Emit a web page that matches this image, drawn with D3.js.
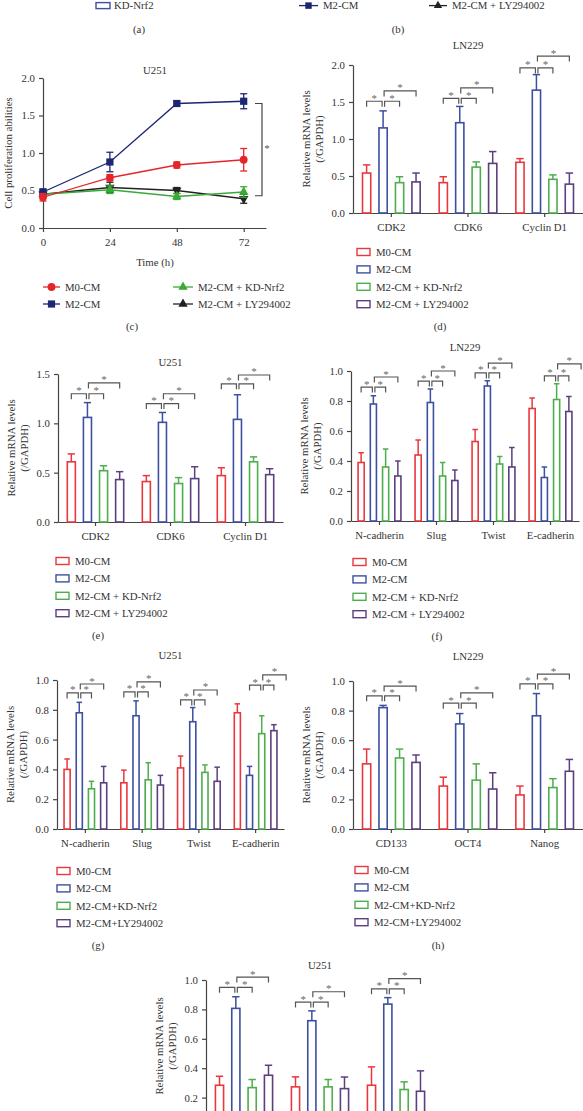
<!DOCTYPE html>
<html><head><meta charset="utf-8">
<script src="https://cdn.jsdelivr.net/npm/d3@7"></script>
<style>
body{margin:0;background:#fff}
svg{display:block}
text{font-family:"Liberation Serif","Times New Roman",serif}
</style>
</head><body>
<svg id="chart" width="583" height="1111"></svg>
<script>
// ---------------- DATA ----------------
const groupNames = ["M0-CM", "M2-CM", "M2-CM + KD-Nrf2", "M2-CM + LY294002"];
const groupNamesCompact = ["M0-CM", "M2-CM", "M2-CM+KD-Nrf2", "M2-CM+LY294002"];
const topLegendNames = ["KD-Nrf2", "M2-CM", "M2-CM + LY294002"];
const topPanelLabels = ["(a)", "(b)"];

// panel (c) – U251 proliferation
const cTimes = [0, 24, 48, 72];
const cTimeTicks = [0, 24, 48, 72];
const cM0 = [0.41, 0.67, 0.84, 0.91];
const cM0Err = [0.05, 0.04, 0.04, 0.15];
const cM2 = [0.48, 0.88, 1.66, 1.69];
const cM2Err = [0.04, 0.13, 0.03, 0.10];
const cNrf2 = [0.45, 0.51, 0.42, 0.48];
const cNrf2Err = [0.03, 0.05, 0.04, 0.07];
const cLY = [0.45, 0.54, 0.50, 0.39];
const cLYErr = [0.03, 0.07, 0.04, 0.06];
const cSig = [1.66, 0.43];

// panel (d) – LN229 cell-cycle genes
const dCats = ["CDK2", "CDK6", "Cyclin D1"];
const dMean = [[0.54, 0.41, 0.685], [1.15, 1.22, 1.66], [0.41, 0.62, 0.455], [0.42, 0.67, 0.39]];
const dErr = [[0.11, 0.08, 0.05], [0.23, 0.22, 0.21], [0.08, 0.07, 0.06], [0.12, 0.16, 0.15]];
const dSigLow = [1.51, 1.55, 1.96];
const dSigHigh = [1.65, 1.69, 2.12];

// panel (e) – U251 cell-cycle genes
const eCats = ["CDK2", "CDK6", "Cyclin D1"];
const eMean = [[0.61, 0.41, 0.47], [1.06, 1.01, 1.04], [0.52, 0.39, 0.61], [0.43, 0.44, 0.48]];
const eErr = [[0.08, 0.06, 0.08], [0.15, 0.10, 0.25], [0.05, 0.06, 0.05], [0.08, 0.12, 0.06]];
const eSigLow = [1.30, 1.20, 1.40];
const eSigHigh = [1.41, 1.30, 1.49];

// panel (f) – LN229 EMT genes
const fCats = ["N-cadherin", "Slug", "Twist", "E-cadherin"];
const fMean = [[0.39, 0.44, 0.53, 0.75], [0.78, 0.79, 0.90, 0.29], [0.36, 0.30, 0.38, 0.81], [0.30, 0.27, 0.36, 0.73]];
const fErr = [[0.065, 0.10, 0.08, 0.07], [0.055, 0.09, 0.035, 0.07], [0.12, 0.09, 0.05, 0.105], [0.10, 0.07, 0.13, 0.10]];
const fSigLow = [0.893, 0.933, 0.987, 0.967];
const fSigHigh = [0.96, 1.0, 1.053, 1.047];
const fSigShift = [0, 0, 0, 1];

// panel (g) – U251 EMT genes
const gCats = ["N-cadherin", "Slug", "Twist", "E-cadherin"];
const gMean = [[0.40, 0.31, 0.41, 0.78], [0.78, 0.76, 0.72, 0.36], [0.27, 0.33, 0.38, 0.64], [0.31, 0.295, 0.32, 0.66]];
const gErr = [[0.07, 0.085, 0.08, 0.06], [0.07, 0.10, 0.095, 0.06], [0.05, 0.115, 0.05, 0.12], [0.11, 0.065, 0.095, 0.04]];
const gSigLow = [0.913, 0.92, 0.866, 0.966];
const gSigHigh = [0.973, 0.987, 0.933, 1.034];
const gSigShift = [0, 0, 0, 1];

// panel (h) – LN229 stemness genes
const hCats = ["CD133", "OCT4", "Nanog"];
const hMean = [[0.44, 0.29, 0.23], [0.82, 0.71, 0.765], [0.48, 0.33, 0.28], [0.45, 0.27, 0.39]];
const hErr = [[0.10, 0.06, 0.06], [0.015, 0.07, 0.15], [0.06, 0.11, 0.06], [0.05, 0.11, 0.08]];
const hSigLow = [0.90, 0.85, 0.98];
const hSigHigh = [0.966, 0.92, 1.047];

// panel (i) – U251 stemness genes (cut at the bottom of the figure)
const iCats = ["CD133", "OCT4", "Nanog"];
const iMean = [[0.284, 0.273, 0.284], [0.807, 0.723, 0.836], [0.268, 0.273, 0.255], [0.352, 0.261, 0.243]];
const iErr = [[0.061, 0.068, 0.125], [0.079, 0.067, 0.044], [0.055, 0.05, 0.052], [0.068, 0.079, 0.139]];
const iSigLow = [0.95, 0.85, 0.94];
const iSigHigh = [1.02, 0.92, 1.01];

const ticks2 = [0, 0.5, 1.0, 1.5, 2.0];
const ticks15 = [0, 0.5, 1.0, 1.5];
const ticks1 = [0, 0.2, 0.4, 0.6, 0.8, 1.0];
const ticks1Visible = [0.2, 0.4, 0.6, 0.8, 1.0];

// ---------------- STYLE ----------------
const BAR_COL = ["#e8383d", "#3c4fa0", "#4cae4c", "#5b3f80"];
const LINE_COL = ["#e4262b", "#1c2672", "#3aa935", "#222222"];
const AX = "#444";
const TXT = "#333";
const FS = 10.8;
const svg = d3.select("#chart");
const fmt = d3.format(".1f");

function styleAxis(sel) {
  sel.selectAll("path.domain").attr("stroke", AX).attr("stroke-width", 1.2);
  sel.selectAll(".tick line").attr("stroke", AX).attr("stroke-width", 1.2);
  sel.selectAll(".tick text").attr("font-family", '"Liberation Serif","Times New Roman",serif')
    .attr("font-size", FS).attr("fill", TXT);
}

function txt(g, x, y, s, opts = {}) {
  const t = g.append("text").attr("x", x).attr("y", y).attr("dy", "0.35em")
    .attr("text-anchor", opts.anchor || "middle").attr("font-size", opts.size || FS)
    .attr("fill", opts.fill || TXT).text(s);
  if (opts.rotate) t.attr("transform", `rotate(-90,${x},${y})`);
  return t;
}

// ---------------- TOP STRIP (a)/(b) fragments ----------------
{
  const g = svg.append("g");
  const ty = 5.6;
  g.append("rect").attr("x", 96).attr("y", ty - 3).attr("width", 14).attr("height", 6)
    .attr("fill", "#fff").attr("stroke", BAR_COL[1]).attr("stroke-width", 1.4);
  txt(g, 114, ty, topLegendNames[0], {anchor: "start"});
  g.append("line").attr("x1", 299).attr("x2", 318).attr("y1", ty).attr("y2", ty).attr("stroke", LINE_COL[1]).attr("stroke-width", 1.3);
  g.append("path").attr("d", d3.symbol(d3.symbolSquare, 42)()).attr("transform", `translate(308.5,${ty})`).attr("fill", LINE_COL[1]);
  txt(g, 323, ty, topLegendNames[1], {anchor: "start"});
  g.append("line").attr("x1", 429).attr("x2", 447).attr("y1", ty).attr("y2", ty).attr("stroke", LINE_COL[3]).attr("stroke-width", 1.3);
  g.append("path").attr("d", d3.symbol(d3.symbolTriangle, 30)()).attr("transform", `translate(438,${ty})`).attr("fill", LINE_COL[3]);
  txt(g, 452, ty, topLegendNames[2], {anchor: "start"});
  txt(g, 139, 29, topPanelLabels[0]);
  txt(g, 398, 29, topPanelLabels[1]);
}

// ---------------- PANEL (c) ----------------
{
  const g = svg.append("g");
  const x = d3.scaleLinear().domain([0, 80]).range([43, 266]);
  const y = d3.scaleLinear().domain([0, 2]).range([228, 78]);
  txt(g, 155, 70, "U251");
  const ya = g.append("g").attr("transform", "translate(43,0)")
    .call(d3.axisLeft(y).tickValues(ticks2).tickFormat(fmt).tickSize(4).tickSizeOuter(0).tickPadding(4));
  styleAxis(ya);
  const xa = g.append("g").attr("transform", "translate(0,228)")
    .call(d3.axisBottom(x).tickValues(cTimeTicks).tickFormat(d3.format("d")).tickSize(4).tickSizeOuter(0).tickPadding(6));
  styleAxis(xa);
  txt(g, 155, 262, "Time (h)");
  txt(g, 8, 153, "Cell proliferation abilities", {rotate: true});

  const series = [
    {m: cLY, e: cLYErr, col: LINE_COL[3], sym: "down"},
    {m: cNrf2, e: cNrf2Err, col: LINE_COL[2], sym: "up"},
    {m: cM2, e: cM2Err, col: LINE_COL[1], sym: "sq"},
    {m: cM0, e: cM0Err, col: LINE_COL[0], sym: "circ"}
  ];
  const line = d3.line().x((d, i) => x(cTimes[i])).y(d => y(d));
  function marker(sel, sym, col, cx, cy) {
    let p;
    if (sym === "circ") p = sel.append("circle").attr("cx", cx).attr("cy", cy).attr("r", 3.9);
    else if (sym === "sq") p = sel.append("path").attr("d", d3.symbol(d3.symbolSquare, 52)()).attr("transform", `translate(${cx},${cy})`);
    else if (sym === "up") p = sel.append("path").attr("d", d3.symbol(d3.symbolTriangle, 38)()).attr("transform", `translate(${cx},${cy})`);
    else p = sel.append("path").attr("d", d3.symbol(d3.symbolTriangle, 38)()).attr("transform", `translate(${cx},${cy}) rotate(180)`);
    p.attr("fill", col);
  }
  series.forEach(s => {
    g.append("path").datum(s.m).attr("d", line).attr("fill", "none").attr("stroke", s.col).attr("stroke-width", 1.3);
    s.m.forEach((v, i) => {
      const cx = x(cTimes[i]);
      const y1 = y(v + s.e[i]), y2 = y(v - s.e[i]);
      g.append("line").attr("x1", cx).attr("x2", cx).attr("y1", y1).attr("y2", y2).attr("stroke", s.col).attr("stroke-width", 1.3);
      [y1, y2].forEach(yy => g.append("line").attr("x1", cx - 3.5).attr("x2", cx + 3.5).attr("y1", yy).attr("y2", yy).attr("stroke", s.col).attr("stroke-width", 1.3));
    });
    s.m.forEach((v, i) => marker(g, s.sym, s.col, x(cTimes[i]), y(v)));
  });
  // significance bracket
  const bx = 262;
  g.append("path").attr("d", `M${bx - 7},${y(cSig[0])}H${bx}V${y(cSig[1])}H${bx - 7}`)
    .attr("fill", "none").attr("stroke", AX).attr("stroke-width", 1.2);
  txt(g, bx + 5, (y(cSig[0]) + y(cSig[1])) / 2 - 1, "*", {size: 11, fill: "#555"});

  // legend
  const legSyms = ["circ", "sq", "up", "up"];
  const legPos = [[43, 287], [43, 304], [173, 287], [173, 304]];
  groupNames.forEach((nm, i) => {
    const [lx, ly] = legPos[i];
    const w = i < 2 ? 17 : 20;
    g.append("line").attr("x1", lx).attr("x2", lx + w).attr("y1", ly).attr("y2", ly).attr("stroke", LINE_COL[i]).attr("stroke-width", 1.3);
    marker(g, legSyms[i], LINE_COL[i], lx + w / 2, ly);
    txt(g, lx + w + 5, ly, nm, {anchor: "start"});
  });
  txt(g, 132, 326, "(c)");
}

// ---------------- BAR PANELS ----------------
function barPanel(p) {
  const g = svg.append("g");
  const y = d3.scaleLinear().domain([0, p.max]).range([p.yB, p.yT]);
  const x = d3.scaleBand().domain(p.cats).range([p.x0, p.x1]).padding(0);
  const s = x.step();
  const inner = d3.scaleBand().domain(d3.range(4)).range([-0.376 * s, 0.376 * s]).paddingInner(0.5).paddingOuter(0);
  const istep = inner.step();
  const bw = inner.bandwidth();
  const bc = (ci, si) => x(p.cats[ci]) + s / 2 + inner(0) + bw / 2 + si * istep;

  // axes
  const ya = g.append("g").attr("transform", `translate(${p.x0},0)`)
    .call(d3.axisLeft(y).tickValues(p.ticks).tickFormat(fmt).tickSize(4).tickSizeOuter(0).tickPadding(4));
  styleAxis(ya);
  const xAxis = d3.axisBottom(x).tickSize(4).tickSizeOuter(0);
  const xa = g.append("g").attr("transform", `translate(0,${p.yB})`).call(xAxis);
  styleAxis(xa);
  xa.selectAll(".tick text").attr("y", p.catY - p.yB).attr("dy", "0.35em");
  if (p.hideCatLabels) xa.selectAll(".tick text").remove();

  // bars
  p.means.forEach((ser, si) => ser.forEach((v, ci) => {
    const cx = bc(ci, si);
    const col = BAR_COL[si];
    const et = y(v + p.errs[si][ci]);
    g.append("line").attr("x1", cx).attr("x2", cx).attr("y1", y(v)).attr("y2", et).attr("stroke", col).attr("stroke-width", 1.5);
    g.append("line").attr("x1", cx - bw * 0.45).attr("x2", cx + bw * 0.45).attr("y1", et).attr("y2", et).attr("stroke", col).attr("stroke-width", 1.5);
    g.append("rect").attr("x", cx - bw / 2).attr("y", y(v)).attr("width", bw).attr("height", y(0) - y(v))
      .attr("fill", "#fff").attr("stroke", col).attr("stroke-width", 1.6);
  }));

  // significance brackets
  const pairs = [[0, 1, 0, 0, -1], [1, 2, 0, 1.5, 0], [1, 3, 1, 1, 0]];
  p.cats.forEach((c, ci) => {
    const sh = p.shift ? p.shift[ci] : 0;
    pairs.forEach(([a, b, hi, da, db]) => {
      const xa_ = bc(ci, a + sh) + da, xb_ = bc(ci, b + sh) + db;
      const yy = y(hi ? p.sigHigh[ci] : p.sigLow[ci]);
      g.append("path").attr("d", `M${xa_},${yy + 5.5}V${yy}H${xb_}V${yy + 5.5}`)
        .attr("fill", "none").attr("stroke", "#555").attr("stroke-width", 1.2);
      g.append("text").attr("x", (xa_ + xb_) / 2).attr("y", yy + 0.5).attr("text-anchor", "middle")
        .attr("font-size", 11).attr("fill", "#666").text("*");
    });
  });

  txt(g, (p.x0 + p.x1) / 2, p.titleY, p.title);
  const ymid = p.ytitleY != null ? p.ytitleY : (p.yT + p.yB) / 2;
  txt(g, p.x0 - 47, ymid, "Relative mRNA levels", {rotate: true});
  txt(g, p.x0 - 34, ymid, "(/GAPDH)", {rotate: true});

  if (p.legend) {
    p.legend.forEach((nm, i) => {
      const ly = p.legY + i * 17.4;
      g.append("rect").attr("x", p.legX).attr("y", ly - 3.5).attr("width", 13).attr("height", 7)
        .attr("fill", "#fff").attr("stroke", BAR_COL[i]).attr("stroke-width", 1.4);
      txt(g, p.legX + 19, ly, nm, {anchor: "start"});
    });
    txt(g, p.labX, p.labY, p.label);
  }
}

barPanel({cats: dCats, means: dMean, errs: dErr, sigLow: dSigLow, sigHigh: dSigHigh,
  x0: 353, x1: 583, yT: 65, yB: 213, max: 2, ticks: ticks2, title: "LN229", titleY: 45, catY: 227,
  legend: groupNames, legX: 357, legY: 252, label: "(d)", labX: 440, labY: 326});

barPanel({cats: eCats, means: eMean, errs: eErr, sigLow: eSigLow, sigHigh: eSigHigh,
  x0: 58, x1: 283, yT: 374, yB: 522, max: 1.5, ticks: ticks15, title: "U251", titleY: 362, catY: 536,
  legend: groupNames, legX: 56, legY: 561, label: "(e)", labX: 98, labY: 635});

barPanel({cats: fCats, means: fMean, errs: fErr, sigLow: fSigLow, sigHigh: fSigHigh, shift: fSigShift,
  x0: 351, x1: 579, yT: 371, yB: 521, max: 1, ticks: ticks1, title: "LN229", titleY: 347, catY: 535,
  legend: groupNames, legX: 353, legY: 562, label: "(f)", labX: 437, labY: 636});

barPanel({cats: gCats, means: gMean, errs: gErr, sigLow: gSigLow, sigHigh: gSigHigh, shift: gSigShift,
  x0: 57, x1: 284, yT: 680, yB: 829, max: 1, ticks: ticks1, title: "U251", titleY: 655, catY: 843,
  legend: groupNamesCompact, legX: 57, legY: 871, label: "(g)", labX: 98, labY: 945});

barPanel({cats: hCats, means: hMean, errs: hErr, sigLow: hSigLow, sigHigh: hSigHigh,
  x0: 353, x1: 583, yT: 681, yB: 829, max: 1, ticks: ticks1, title: "LN229", titleY: 656, catY: 843,
  legend: groupNamesCompact, legX: 355, legY: 870, label: "(h)", labX: 438, labY: 945});

barPanel({cats: iCats, means: iMean, errs: iErr, sigLow: iSigLow, sigHigh: iSigHigh,
  x0: 206, x1: 434, yT: 980, yB: 1127, max: 1, ticks: ticks1Visible, title: "U251", titleY: 965, catY: 1141,
  hideCatLabels: true, ytitleY: 1046});
</script>
</body></html>
